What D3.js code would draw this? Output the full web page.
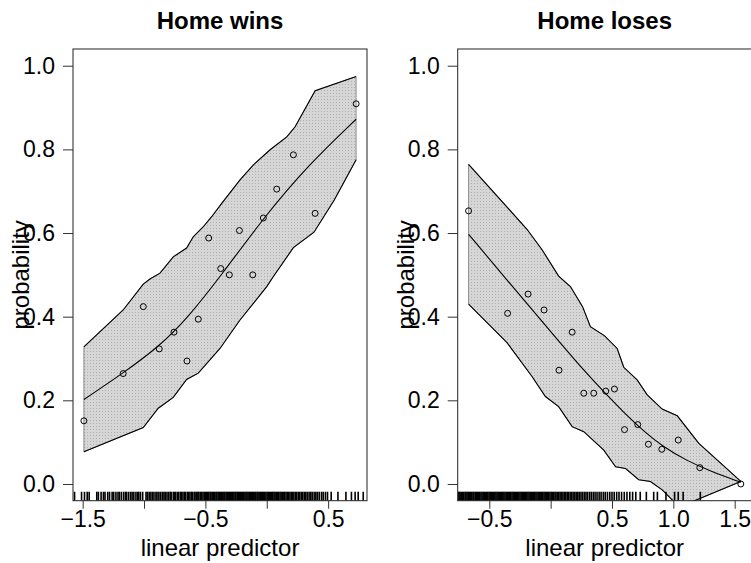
<!DOCTYPE html>
<html>
<head>
<meta charset="utf-8">
<script src="https://cdn.jsdelivr.net/npm/d3@7"></script>
<style>
body { margin: 0; background: #fff; }
text { font-family: "Liberation Sans", Arial, Helvetica, sans-serif; fill: #000; }
.t1 { font-size: 24px; font-weight: bold; }
.t2 { font-size: 24px; }
</style>
</head>
<body>
<svg id="chart" width="751" height="563"></svg>
<script>

// ---- Home wins ----
var winPtX = [-1.49, -1.17, -1.006, -0.876, -0.756, -0.650, -0.558, -0.473, -0.375, -0.305, -0.223, -0.114, -0.028, 0.081, 0.217, 0.394, 0.728];
var winPtY = [0.151, 0.264, 0.424, 0.323, 0.363, 0.294, 0.394, 0.588, 0.515, 0.50, 0.606, 0.50, 0.636, 0.705, 0.787, 0.647, 0.909];
var winFitX = [-1.49, -1.17, -0.88, -0.65, -0.375, -0.028, 0.353, 0.728];
var winFitY = [0.202, 0.265, 0.328, 0.395, 0.497, 0.636, 0.767, 0.872];
var winUpX = [-1.49, -1.17, -1.006, -0.952, -0.87, -0.762, -0.653, -0.599, -0.517, -0.449, -0.367, -0.218, -0.109, 0.027, 0.163, 0.231, 0.394, 0.728];
var winUpY = [0.328, 0.416, 0.478, 0.49, 0.504, 0.543, 0.564, 0.591, 0.615, 0.639, 0.671, 0.727, 0.763, 0.799, 0.830, 0.854, 0.94, 0.974];
var winLoX = [-1.49, -1.006, -0.884, -0.762, -0.653, -0.558, -0.381, -0.218, 0.0, 0.054, 0.217, 0.385, 0.55, 0.728];
var winLoY = [0.077, 0.135, 0.181, 0.207, 0.250, 0.265, 0.324, 0.392, 0.472, 0.496, 0.565, 0.602, 0.679, 0.775];
var winRug = [-1.566, -1.509, -1.485, -1.463, -1.447, -1.385, -1.372, -1.35, -1.331, -1.318, -1.296, -1.281, -1.26, -1.247, -1.229, -1.212, -1.2, -1.184, -1.166, -1.151, -1.142, -1.126, -1.11, -1.097, -1.083, -1.066, -1.052, -1.043, -1.029, -1.011, -0.984, -0.972, -0.958, -0.944, -0.931, -0.919, -0.903, -0.894, -0.879, -0.866, -0.852, -0.838, -0.827, -0.813, -0.8, -0.787, -0.779, -0.762, -0.751, -0.742, -0.728, -0.717, -0.703, -0.696, -0.683, -0.671, -0.663, -0.648, -0.638, -0.626, -0.614, -0.607, -0.592, -0.584, -0.571, -0.561, -0.553, -0.541, -0.532, -0.52, -0.509, -0.5, -0.49, -0.481, -0.472, -0.461, -0.454, -0.443, -0.433, -0.425, -0.414, -0.406, -0.396, -0.387, -0.377, -0.369, -0.358, -0.349, -0.341, -0.331, -0.322, -0.313, -0.305, -0.294, -0.286, -0.277, -0.268, -0.258, -0.251, -0.241, -0.232, -0.223, -0.214, -0.206, -0.196, -0.188, -0.178, -0.169, -0.161, -0.152, -0.142, -0.134, -0.124, -0.116, -0.107, -0.097, -0.089, -0.079, -0.071, -0.062, -0.052, -0.044, -0.034, -0.026, -0.017, -0.007, 0.003, 0.012, 0.021, 0.03, 0.041, 0.049, 0.059, 0.068, 0.079, 0.088, 0.097, 0.108, 0.117, 0.127, 0.138, 0.146, 0.157, 0.168, 0.177, 0.189, 0.2, 0.209, 0.221, 0.233, 0.244, 0.257, 0.268, 0.281, 0.293, 0.306, 0.318, 0.331, 0.345, 0.358, 0.37, 0.386, 0.4, 0.413, 0.428, 0.446, 0.46, 0.478, 0.495, 0.525, 0.58, 0.645, 0.69, 0.72, 0.745, 0.786];

// ---- Home loses ----
var losePtX = [-0.669, -0.351, -0.184, -0.054, 0.068, 0.175, 0.27, 0.351, 0.449, 0.52, 0.602, 0.71, 0.797, 0.906, 1.04, 1.216, 1.55];
var losePtY = [0.653, 0.408, 0.454, 0.416, 0.272, 0.363, 0.217, 0.217, 0.222, 0.227, 0.130, 0.142, 0.095, 0.083, 0.105, 0.039, 0.0];
var loseFitX = [-0.669, -0.343, 0.12, 0.27, 0.45, 0.60, 0.759, 0.906, 1.113, 1.30, 1.55];
var loseFitY = [0.597, 0.483, 0.323, 0.272, 0.215, 0.170, 0.126, 0.091, 0.055, 0.031, 0.004];
var loseUpX = [-0.669, -0.193, -0.07, 0.065, 0.161, 0.26, 0.324, 0.44, 0.542, 0.596, 0.705, 0.787, 0.909, 1.032, 1.208, 1.55];
var loseUpY = [0.764, 0.609, 0.56, 0.497, 0.472, 0.424, 0.376, 0.354, 0.324, 0.279, 0.249, 0.213, 0.179, 0.163, 0.097, 0.006];
var loseLoX = [-0.669, -0.356, -0.152, -0.043, 0.065, 0.175, 0.27, 0.433, 0.529, 0.61, 0.718, 0.813, 0.909, 1.004, 1.05, 1.55];
var loseLoY = [0.430, 0.338, 0.257, 0.209, 0.185, 0.137, 0.125, 0.081, 0.041, 0.037, 0.010, 0.006, -0.014, -0.042, -0.055, 0.006];
var loseRug = [-0.755, -0.746, -0.738, -0.727, -0.718, -0.709, -0.698, -0.69, -0.681, -0.671, -0.662, -0.653, -0.643, -0.633, -0.625, -0.614, -0.606, -0.597, -0.587, -0.578, -0.568, -0.559, -0.549, -0.541, -0.53, -0.521, -0.512, -0.502, -0.493, -0.484, -0.474, -0.465, -0.455, -0.446, -0.437, -0.428, -0.418, -0.409, -0.399, -0.39, -0.381, -0.372, -0.362, -0.352, -0.344, -0.334, -0.325, -0.315, -0.306, -0.297, -0.288, -0.278, -0.269, -0.259, -0.25, -0.241, -0.232, -0.222, -0.213, -0.204, -0.194, -0.185, -0.176, -0.166, -0.157, -0.148, -0.138, -0.129, -0.12, -0.111, -0.101, -0.092, -0.082, -0.073, -0.064, -0.054, -0.045, -0.036, -0.026, -0.017, -0.006, 0.004, 0.013, 0.024, 0.035, 0.044, 0.056, 0.066, 0.077, 0.089, 0.1, 0.112, 0.123, 0.135, 0.146, 0.159, 0.171, 0.183, 0.196, 0.208, 0.221, 0.233, 0.247, 0.26, 0.274, 0.288, 0.301, 0.317, 0.331, 0.347, 0.362, 0.378, 0.395, 0.411, 0.429, 0.445, 0.463, 0.482, 0.5, 0.518, 0.538, 0.557, 0.578, 0.6, 0.622, 0.645, 0.668, 0.694, 0.73, 0.78, 0.84, 0.87, 0.94, 1.01, 1.04, 1.08, 1.22];

var yTicks = [0, 0.2, 0.4, 0.6, 0.8, 1.0];
var yLabels = ["0.0", "0.2", "0.4", "0.6", "0.8", "1.0"];
var winXTicks = [-1.5, -1.0, -0.5, 0.0, 0.5];
var winXLabels = ["\u22121.5", "", "\u22120.5", "", "0.5"];
var loseXTicks = [-0.5, 0.0, 0.5, 1.0, 1.5];
var loseXLabels = ["\u22120.5", "", "0.5", "1.0", "1.5"];

var svg = d3.select("#chart");
var top0 = 49, bottom0 = 500.7;

// sparse dot stipple over light grey for the band
var pat = svg.append("defs").append("pattern")
    .attr("id", "shade")
    .attr("width", 3).attr("height", 3)
    .attr("patternUnits", "userSpaceOnUse");
pat.append("rect").attr("width", 3).attr("height", 3).attr("fill", "#d6d6d6");
pat.append("rect").attr("width", 1).attr("height", 1).attr("fill", "#b0b0b0");

function expand(lo, hi) {
  var d = (hi - lo) * 0.04;
  return [lo - d, hi + d];
}

function zip(xs, ys) {
  return xs.map(function(v, i) { return [v, ys[i]]; });
}

function panel(o) {
  var allX = o.ptX.concat(o.fitX);
  var x = d3.scaleLinear().domain(expand(d3.min(allX), d3.max(allX))).range([o.left, o.left + 294]);
  var y = d3.scaleLinear().domain(expand(0, 1)).range([bottom0, top0]);
  var g = svg.append("g");

  g.append("clipPath").attr("id", "clip" + o.id)
    .append("rect")
    .attr("x", o.left).attr("y", top0)
    .attr("width", 294).attr("height", bottom0 - top0);

  var plot = g.append("g").attr("clip-path", "url(#clip" + o.id + ")");
  var line = d3.line().x(function(d) { return x(d[0]); }).y(function(d) { return y(d[1]); });

  var up = zip(o.upX, o.upY), lo = zip(o.loX, o.loY);
  plot.append("path")
    .attr("d", line(up.concat(lo.slice().reverse())) + "Z")
    .attr("fill", "url(#shade)")
    .attr("stroke", "#666")
    .attr("stroke-width", 0.7);
  plot.append("path").attr("d", line(up)).attr("fill", "none").attr("stroke", "#000").attr("stroke-width", 1.1);
  plot.append("path").attr("d", line(lo)).attr("fill", "none").attr("stroke", "#000").attr("stroke-width", 1.1);

  plot.append("path")
    .attr("d", d3.line().x(function(d) { return x(d[0]); }).y(function(d) { return y(d[1]); })
      .curve(d3.curveBasis)(zip(o.fitX, o.fitY)))
    .attr("fill", "none")
    .attr("stroke", "#000")
    .attr("stroke-width", 1.1);

  plot.selectAll("circle")
    .data(zip(o.ptX, o.ptY))
    .enter().append("circle")
    .attr("cx", function(d) { return x(d[0]); })
    .attr("cy", function(d) { return y(d[1]); })
    .attr("r", 3)
    .attr("fill", "none")
    .attr("stroke", "#000")
    .attr("stroke-width", 1);

  plot.selectAll(".rug")
    .data(o.rug)
    .enter().append("line")
    .attr("class", "rug")
    .attr("x1", function(d) { return x(d); })
    .attr("x2", function(d) { return x(d); })
    .attr("y1", bottom0)
    .attr("y2", bottom0 - 9)
    .attr("stroke", "#000")
    .attr("stroke-width", 1.6);

  g.append("rect")
    .attr("x", o.left).attr("y", top0)
    .attr("width", 294).attr("height", bottom0 - top0)
    .attr("fill", "none")
    .attr("stroke", "#222")
    .attr("stroke-width", 1);

  var ya = g.append("g")
    .attr("transform", "translate(" + o.left + ",0)")
    .call(d3.axisLeft(y).tickValues(yTicks).tickSize(10).tickPadding(8)
      .tickFormat(function(d, i) { return yLabels[i]; }));
  ya.select(".domain").remove();
  ya.attr("font-family", null).attr("font-size", 23);
  ya.selectAll("line").attr("stroke", "#333");

  var xa = g.append("g")
    .attr("transform", "translate(0," + bottom0 + ")")
    .call(d3.axisBottom(x).tickValues(o.xTicks).tickSize(8).tickPadding(2)
      .tickFormat(function(d, i) { return o.xLabels[i]; }));
  xa.select(".domain").remove();
  xa.attr("font-family", null).attr("font-size", 23);
  xa.selectAll("line").attr("stroke", "#333");

  var cx = o.left + 147;
  g.append("text").attr("class", "t1")
    .attr("x", cx).attr("y", 29)
    .attr("text-anchor", "middle")
    .text(o.title);
  g.append("text").attr("class", "t2")
    .attr("x", cx).attr("y", 556)
    .attr("text-anchor", "middle")
    .text("linear predictor");
  g.append("text").attr("class", "t2")
    .attr("transform", "translate(" + (o.left - 44) + "," + ((top0 + bottom0) / 2) + ") rotate(-90)")
    .attr("text-anchor", "middle")
    .text("probability");
}

panel({ id: 1, left: 73, title: "Home wins",
  ptX: winPtX, ptY: winPtY, fitX: winFitX, fitY: winFitY,
  upX: winUpX, upY: winUpY, loX: winLoX, loY: winLoY, rug: winRug,
  xTicks: winXTicks, xLabels: winXLabels });

panel({ id: 2, left: 457.7, title: "Home loses",
  ptX: losePtX, ptY: losePtY, fitX: loseFitX, fitY: loseFitY,
  upX: loseUpX, upY: loseUpY, loX: loseLoX, loY: loseLoY, rug: loseRug,
  xTicks: loseXTicks, xLabels: loseXLabels });

</script>
</body>
</html>
